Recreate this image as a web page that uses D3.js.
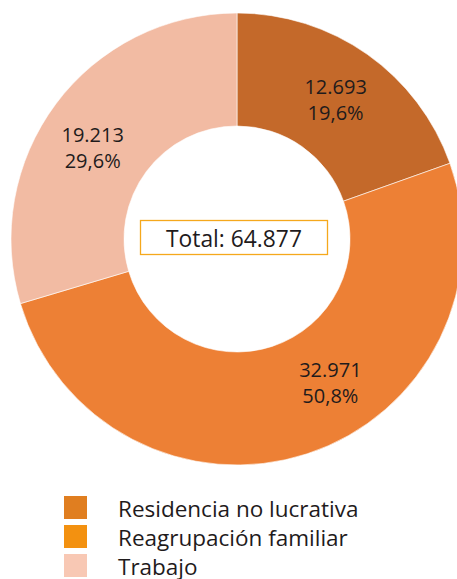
<!DOCTYPE html>
<html><head><meta charset="utf-8">
<script src="https://cdn.jsdelivr.net/npm/d3@7"></script>
<style>body{margin:0;background:#fff}svg{display:block}</style>
</head><body>
<svg id="c" width="457" height="579"></svg>
<script>
const categories = ["Residencia no lucrativa", "Reagrupación familiar", "Trabajo"];
const values = [12693, 32971, 19213];
const percentLabels = ["19,6%", "50,8%", "29,6%"];
const valueLabels = ["12.693", "32.971", "19.213"];
const totalLabel = "Total: 64.877";
const sliceColors = ["#c4692a", "#ed8035", "#f2bba3"];
const legendColors = ["#e07e20", "#f39110", "#f8c8b4"];
const labelFraction = [0.5, 0.418, 0.46];

const svg = d3.select("#c");
const font = "'Open Sans', 'Noto Sans', sans-serif";
const cx = 237, cy = 239, R = 226, r = 113;
const g = svg.append("g").attr("transform", `translate(${cx},${cy})`);
const pie = d3.pie().sort(null).value(d => d);
const arcs = pie(values);
const arc = d3.arc().innerRadius(r).outerRadius(R);
g.selectAll("path").data(arcs).enter().append("path")
  .attr("d", arc).attr("fill", (d, i) => sliceColors[i])
  .attr("stroke", "#fff").attr("stroke-width", 0.6);

const labelR = 171;
arcs.forEach((a, i) => {
  const ang = a.startAngle + (a.endAngle - a.startAngle) * labelFraction[i];
  const x = labelR * Math.sin(ang), y = -labelR * Math.cos(ang);
  const t = g.append("text").attr("text-anchor", "middle")
    .attr("font-family", font).attr("font-size", 20).attr("fill", "#1f1b1c");
  t.append("tspan").attr("x", x).attr("y", y - 5).text(valueLabels[i]);
  t.append("tspan").attr("x", x).attr("y", y + 20.5).text(percentLabels[i]);
});

// Total box
svg.append("rect").attr("x", 140.5).attr("y", 220.5).attr("width", 187).attr("height", 34)
  .attr("fill", "#fff").attr("stroke", "#f5a81c").attr("stroke-width", 1.3);
svg.append("text").attr("x", 234).attr("y", 247).attr("text-anchor", "middle")
  .attr("font-family", font).attr("font-size", 22.8).attr("fill", "#1f1b1c").text(totalLabel);

// Legend
const lg = svg.append("g");
categories.forEach((c, i) => {
  const y = 496 + i * 29;
  lg.append("rect").attr("x", 64).attr("y", y).attr("width", 23).attr("height", 23).attr("fill", legendColors[i]);
  lg.append("text").attr("x", 118).attr("y", y + 20.5).attr("font-family", font)
    .attr("font-size", 22.5).attr("fill", "#1f1b1c").text(c);
});
</script>
</body></html>
